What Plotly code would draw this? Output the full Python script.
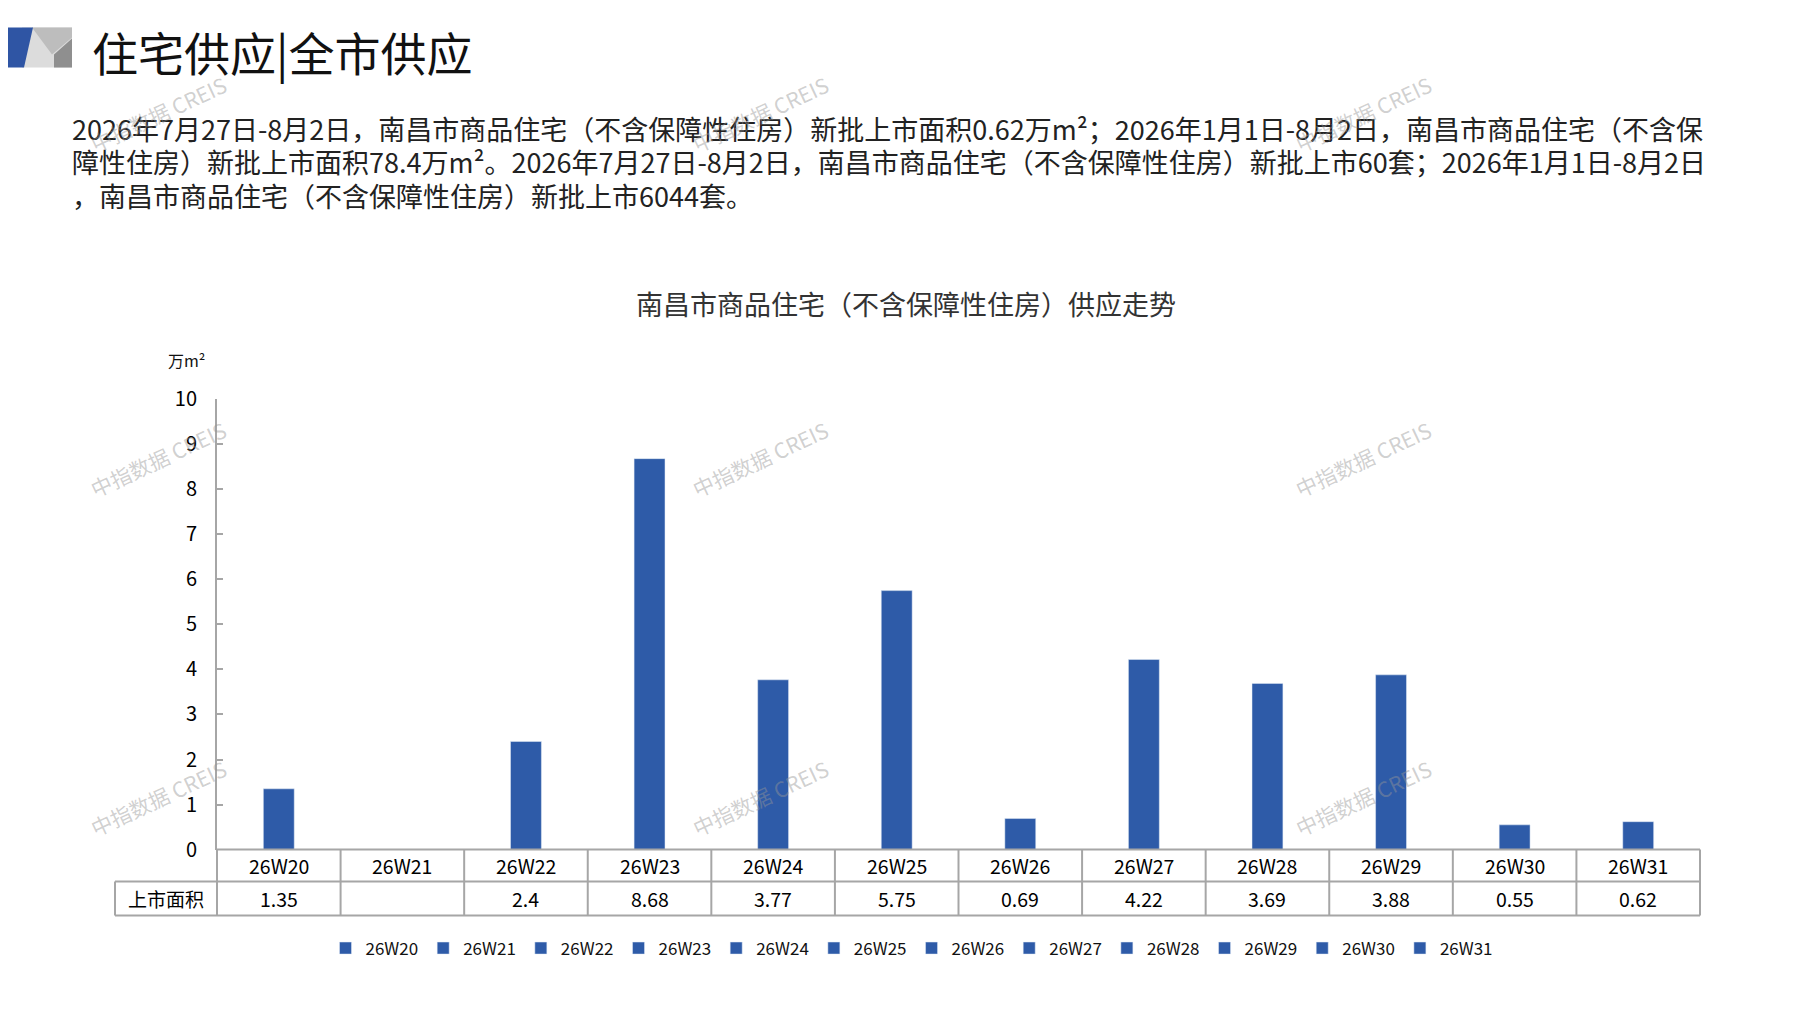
import plotly.graph_objects as go

# data
weeks = ["26W20", "26W21", "26W22", "26W23", "26W24", "26W25",
         "26W26", "26W27", "26W28", "26W29", "26W30", "26W31"]
area = [1.35, None, 2.4, 8.68, 3.77, 5.75, 0.69, 4.22, 3.69, 3.88, 0.55, 0.62]
row_label = "上市面积"
y_ticks = list(range(0, 11))

page_title = "住宅供应|全市供应"
chart_title = "南昌市商品住宅（不含保障性住房）供应走势"
unit_label = "万m²"
para_lines = [
    "2026年7月27日-8月2日，南昌市商品住宅（不含保障性住房）新批上市面积0.62万m²；2026年1月1日-8月2日，南昌市商品住宅（不含保",
    "障性住房）新批上市面积78.4万m²。2026年7月27日-8月2日，南昌市商品住宅（不含保障性住房）新批上市60套；2026年1月1日-8月2日",
    "，南昌市商品住宅（不含保障性住房）新批上市6044套。",
]
watermark = "中指数据 CREIS"

W, H = 1797, 1010
OFF = 8                      # page body margin
FW, FH = W - 2 * OFF, H - 2 * OFF
BLUE = "#2E5BA8"
GRID = "#a6a6a6"
FONT = "Noto Sans CJK SC"


def px(x):
    return (x - OFF) / FW


def py(y):
    # empirical correction between requested and rendered vertical position
    y = (y - 17.6) / 0.972
    return 1 - (y - OFF) / FH


x0, x1 = 217, 1700          # plot left/right in pixels
y_zero, y_top = 852, 401    # value 0 and 10
row1, row2 = 884, 918       # table row bottoms
tbl_left = 115

fig = go.Figure()
for wk, v in zip(weeks, area):
    fig.add_trace(go.Bar(x=[wk], y=[v], name=wk, marker_color=BLUE,
                         width=0.25, hoverinfo="x+y"))

shapes = []
ann = []


def label(x, y, text, size, color="#000", xanchor="center", **kw):
    d = dict(x=x, y=y, xref="paper", yref="paper", text=text, showarrow=False,
             xanchor=xanchor, yanchor="middle", font=dict(size=size, color=color, family=FONT))
    d.update(kw)
    return d


# table grid
line = dict(color=GRID, width=2)
shapes.append(dict(type="line", xref="x domain", yref="paper", x0=0, x1=1,
                   y0=py(y_zero), y1=py(y_zero), line=line))
for yy in (row1, row2):
    shapes.append(dict(type="line", xref="paper", yref="paper", x0=px(tbl_left), x1=px(x1),
                       y0=py(yy), y1=py(yy), line=line))
n = len(weeks)
for i in range(n + 1):
    shapes.append(dict(type="line", xref="x domain", yref="paper", x0=i / n, x1=i / n,
                       y0=py(y_zero), y1=py(row2), line=line))
shapes.append(dict(type="line", xref="paper", yref="paper", x0=px(tbl_left), x1=px(tbl_left),
                   y0=py(row1), y1=py(row2), line=line))

for wk, v in zip(weeks, area):
    ann.append(label(wk, py((y_zero + row1) / 2), wk, 19.5, xref="x"))
    ann.append(label(wk, py((row1 + row2) / 2), "" if v is None else str(v), 19.5, xref="x"))
ann.append(label(px((tbl_left + x0) / 2), py((row1 + row2) / 2), row_label, 19))

# header logo
shapes += [
    dict(type="rect", xref="paper", yref="paper", x0=px(22), x1=px(72), y0=py(69), y1=py(29),
         fillcolor="#dcdcdc", line_width=0),
    dict(type="path", xref="paper", yref="paper",
         path=f"M {px(32)} {py(29)} L {px(72)} {py(29)} L {px(72)} {py(39)} L {px(52)} {py(56)} Z",
         fillcolor="#bdbdbd", line_width=0),
    dict(type="path", xref="paper", yref="paper",
         path=f"M {px(72)} {py(40)} L {px(72)} {py(69)} L {px(54)} {py(69)} L {px(54)} {py(56)} Z",
         fillcolor="#8f8f8f", line_width=0),
    dict(type="path", xref="paper", yref="paper",
         path=f"M {px(0)} {py(29)} L {px(33)} {py(29)} L {px(24)} {py(69)} L {px(0)} {py(69)} Z",
         fillcolor="#2F55A4", line_width=0),
]

ann.append(label(px(90), py(52), page_title, 46, "#111", xanchor="left"))

for i, t in enumerate(para_lines):
    ann.append(label(px(70), py(130 + 33.5 * i), t, 27, "#222", xanchor="left"))

ann.append(label(px(906), py(305), chart_title, 27, "#333"))
ann.append(label(px(186), py(362), unit_label, 16, "#111"))

for wx in (158, 760, 1363):
    for wy in (115, 461, 800):
        ann.append(label(px(wx), py(wy), watermark, 21, "rgba(150,150,150,0.45)", textangle=-25))

fig.update_layout(
    width=FW, height=FH,
    margin=dict(l=0, r=0, t=0, b=0),
    paper_bgcolor="white", plot_bgcolor="white",
    font=dict(family=FONT, color="#000"),
    barmode="overlay",
    showlegend=True,
    legend=dict(orientation="h", x=px(912), xanchor="center", y=py(951), yanchor="middle",
                font=dict(size=17, color="#111"), itemwidth=30, traceorder="normal",
                bgcolor="rgba(255,255,255,0)"),
    xaxis=dict(domain=[px(x0), px(x1)], type="category", range=[-0.5, n - 0.5],
               showticklabels=False, ticks="", showgrid=False, showline=False, zeroline=False),
    yaxis=dict(domain=[py(y_zero), py(y_top)], range=[0, 10], tickvals=y_ticks,
               showgrid=False, zeroline=False, showline=True, linecolor=GRID, linewidth=2,
               ticks="inside", ticklen=6, tickcolor=GRID, tickwidth=2,
               tickfont=dict(size=20, color="#000"), ticklabelstandoff=14),
    shapes=shapes,
    annotations=ann,
)

fig.write_html("out.html")
